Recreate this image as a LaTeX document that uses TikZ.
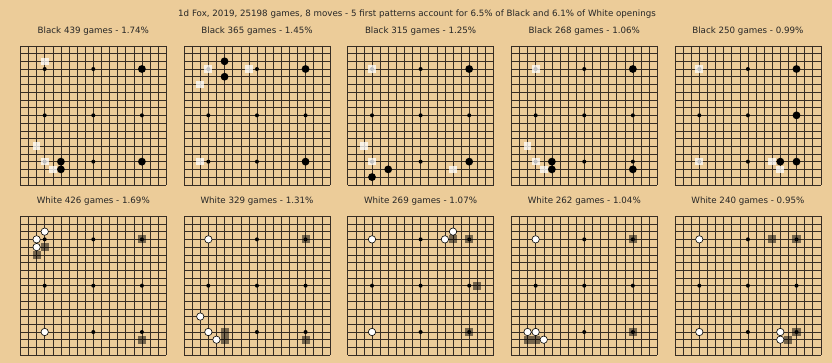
\documentclass[tikz,border=0pt]{standalone}
\usepackage{fontspec}
\setmainfont{DejaVu Sans}
\definecolor{boardbg}{RGB}{236,204,153}
\definecolor{txtcol}{RGB}{38,38,38}
\definecolor{gridcol}{RGB}{55,45,35}
\tikzset{
  gridline/.style={line width=0.5pt, draw=gridcol},
  starpt/.style={fill=black},
  bstone/.style={fill=black},
  wstone/.style={fill=white, draw=black, line width=0.6pt},
  wmark/.style={fill=white, fill opacity=0.75},
  bmark/.style={fill=black, fill opacity=0.5},
  lbl/.style={font=\fontsize{8.7}{10}\selectfont, text=txtcol, inner sep=0pt}
}
\newcommand{\gogrid}{%
  \foreach \i in {0,...,18} {\draw[gridline] (\i,0) -- (\i,18); \draw[gridline] (0,\i) -- (18,\i);}
  \foreach \a in {3,9,15} \foreach \b in {3,9,15} {\fill[starpt] (\a,\b) circle[radius=2pt];}
}
\newcommand{\gobst}[1]{\fill[bstone] (#1) circle[radius=3.9pt];}
\newcommand{\gowst}[1]{\filldraw[wstone] (#1) circle[radius=3.7pt];}
\newcommand{\gowsq}[2]{\fill[wmark] (#1-0.48,#2-0.49) rectangle (#1+0.48,#2+0.49);}
\newcommand{\gobsq}[2]{\fill[bmark] (#1-0.5,#2-0.5) rectangle (#1+0.5,#2+0.5);}
\begin{document}
\begin{tikzpicture}[x=1pt,y=-1pt]
\fill[boardbg] (0,0) rectangle (832,363);
\useasboundingbox (0,0) rectangle (832,363);
\node[lbl] (title) at (417,14) {1d Fox, 2019, 25198 games, 8 moves - 5 first patterns account for 6.5\% of Black and 6.1\% of White openings};
% labels
\node[lbl] (l1) at (93.3,31) {Black 439 games - 1.74\%};
\node[lbl] (l2) at (257.0,31) {Black 365 games - 1.45\%};
\node[lbl] (l3) at (420.6,31) {Black 315 games - 1.25\%};
\node[lbl] (l4) at (584.3,31) {Black 268 games - 1.06\%};
\node[lbl] (l5) at (747.9,31) {Black 250 games - 0.99\%};
\node[lbl] (l6) at (93.3,200.7) {White 426 games - 1.69\%};
\node[lbl] (l7) at (257.0,200.7) {White 329 games - 1.31\%};
\node[lbl] (l8) at (420.6,200.7) {White 269 games - 1.07\%};
\node[lbl] (l9) at (584.3,200.7) {White 262 games - 1.04\%};
\node[lbl] (l10) at (747.9,200.7) {White 240 games - 0.95\%};
% ---- Board 1
\begin{scope}[shift={(20.4,45.85)}, x=8.1pt, y=-7.72pt]
\gogrid
\gobst{15,3}\gobst{15,15}\gobst{5,15}\gobst{5,16}
\gowsq{3}{2}\gowsq{2}{13}\gowsq{3}{15}\gowsq{4}{16}
\end{scope}
% ---- Board 2
\begin{scope}[shift={(184.05,45.85)}, x=8.1pt, y=-7.72pt]
\gogrid
\gobst{15,3}\gobst{15,15}\gobst{5,2}\gobst{5,4}
\gowsq{3}{3}\gowsq{8}{3}\gowsq{2}{5}\gowsq{2}{15}
\end{scope}
% ---- Board 3
\begin{scope}[shift={(347.7,45.85)}, x=8.1pt, y=-7.72pt]
\gogrid
\gobst{15,3}\gobst{15,15}\gobst{5,16}\gobst{3,17}
\gowsq{3}{3}\gowsq{2}{13}\gowsq{3}{15}\gowsq{13}{16}
\end{scope}
% ---- Board 4
\begin{scope}[shift={(511.35,45.85)}, x=8.1pt, y=-7.72pt]
\gogrid
\gobst{15,3}\gobst{5,15}\gobst{5,16}\gobst{15,16}
\gowsq{3}{3}\gowsq{2}{13}\gowsq{3}{15}\gowsq{4}{16}
\end{scope}
% ---- Board 5
\begin{scope}[shift={(675.0,45.85)}, x=8.1pt, y=-7.72pt]
\gogrid
\gobst{15,3}\gobst{15,9}\gobst{15,15}\gobst{13,15}
\gowsq{3}{3}\gowsq{3}{15}\gowsq{12}{15}\gowsq{13}{16}
\end{scope}
% ---- Board 6
\begin{scope}[shift={(20.4,216.2)}, x=8.1pt, y=-7.72pt]
\gogrid
\gowst{3,15}\gowst{3,2}\gowst{2,3}\gowst{2,4}
\gobsq{15}{3}\gobsq{3}{4}\gobsq{2}{5}\gobsq{15}{16}
\end{scope}
% ---- Board 7
\begin{scope}[shift={(184.05,216.2)}, x=8.1pt, y=-7.72pt]
\gogrid
\gowst{3,3}\gowst{2,13}\gowst{3,15}\gowst{4,16}
\gobsq{15}{3}\gobsq{5}{15}\gobsq{5}{16}\gobsq{15}{16}
\end{scope}
% ---- Board 8
\begin{scope}[shift={(347.7,216.2)}, x=8.1pt, y=-7.72pt]
\gogrid
\gowst{3,3}\gowst{3,15}\gowst{12,3}\gowst{13,2}
\gobsq{15}{3}\gobsq{13}{3}\gobsq{16}{9}\gobsq{15}{15}
\end{scope}
% ---- Board 9
\begin{scope}[shift={(511.35,216.2)}, x=8.1pt, y=-7.72pt]
\gogrid
\gowst{3,3}\gowst{2,15}\gowst{3,15}\gowst{4,16}
\gobsq{15}{3}\gobsq{15}{15}\gobsq{2}{16}\gobsq{3}{16}
\end{scope}
% ---- Board 10
\begin{scope}[shift={(675.0,216.2)}, x=8.1pt, y=-7.72pt]
\gogrid
\gowst{3,3}\gowst{3,15}\gowst{13,15}\gowst{13,16}
\gobsq{15}{3}\gobsq{12}{3}\gobsq{15}{15}\gobsq{14}{16}
\end{scope}
\end{tikzpicture}
\end{document}
